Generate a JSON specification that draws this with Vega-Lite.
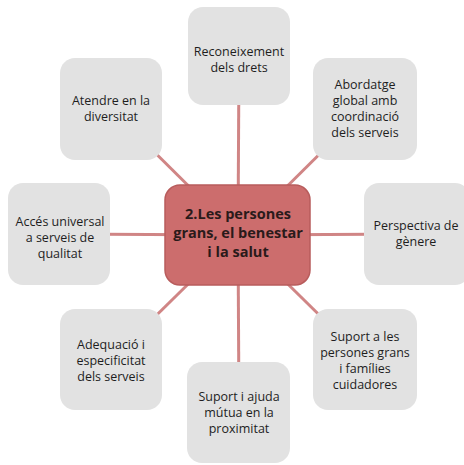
{
  "$schema": "https://vega.github.io/schema/vega-lite/v6.json",
  "width": 464,
  "height": 465,
  "autosize": {"type": "none"},
  "padding": 0,
  "background": "white",
  "config": {"view": {"stroke": null}},
  "datasets": {
    "boxes": [
      {"label": "Reconeixement\ndels drets", "x1": 188, "x2": 290, "y1": 7, "y2": 105, "cx": 239, "ty": 52},
      {"label": "Abordatge\nglobal amb\ncoordinació\ndels serveis", "x1": 313, "x2": 417, "y1": 58, "y2": 160, "cx": 365, "ty": 85},
      {"label": "Perspectiva de\ngènere", "x1": 364, "x2": 470, "y1": 183, "y2": 285, "cx": 416, "ty": 226},
      {"label": "Suport a les\npersones grans\ni famílies\ncuidadores", "x1": 313, "x2": 417, "y1": 309, "y2": 410, "cx": 365, "ty": 337},
      {"label": "Suport i ajuda\nmútua en la\nproximitat", "x1": 187, "x2": 290, "y1": 362, "y2": 463, "cx": 239, "ty": 397},
      {"label": "Adequació i\nespecificitat\ndels serveis", "x1": 60, "x2": 162, "y1": 309, "y2": 410, "cx": 111, "ty": 345},
      {"label": "Accés universal\na serveis de\nqualitat", "x1": 8, "x2": 110, "y1": 183, "y2": 285, "cx": 60, "ty": 222},
      {"label": "Atendre en la\ndiversitat", "x1": 60, "x2": 162, "y1": 58, "y2": 160, "cx": 111, "ty": 101}
    ],
    "links": [
      {"hx": 238, "hy": 235, "cx": 239, "cy": 57},
      {"hx": 238, "hy": 235, "cx": 365, "cy": 109},
      {"hx": 238, "hy": 235, "cx": 416, "cy": 234},
      {"hx": 238, "hy": 235, "cx": 365, "cy": 360},
      {"hx": 238, "hy": 235, "cx": 239, "cy": 412},
      {"hx": 238, "hy": 235, "cx": 111, "cy": 360},
      {"hx": 238, "hy": 235, "cx": 60, "cy": 234},
      {"hx": 238, "hy": 235, "cx": 111, "cy": 109}
    ],
    "hub": [
      {"label": "2.Les persones\ngrans, el benestar\ni la salut", "x1": 165, "x2": 310, "y1": 185, "y2": 285, "cx": 238, "ty": 215}
    ]
  },
  "layer": [
    {
      "data": {"name": "links"},
      "mark": {"type": "rule", "color": "#d08585", "strokeWidth": 3},
      "encoding": {
        "x": {"field": "hx", "type": "quantitative", "scale": {"domain": [0, 464], "range": [0, 464]}, "axis": null},
        "y": {"field": "hy", "type": "quantitative", "scale": {"domain": [0, 465], "range": [0, 465]}, "axis": null},
        "x2": {"field": "cx"},
        "y2": {"field": "cy"}
      }
    },
    {
      "data": {"name": "boxes"},
      "mark": {"type": "rect", "fill": "#e2e2e2", "cornerRadius": 15},
      "encoding": {
        "x": {"field": "x1", "type": "quantitative", "scale": {"domain": [0, 464], "range": [0, 464]}, "axis": null},
        "x2": {"field": "x2"},
        "y": {"field": "y1", "type": "quantitative", "scale": {"domain": [0, 465], "range": [0, 465]}, "axis": null},
        "y2": {"field": "y2"}
      }
    },
    {
      "data": {"name": "hub"},
      "mark": {"type": "rect", "fill": "#cc6d6d", "stroke": "#b85c5c", "strokeWidth": 1.5, "cornerRadius": 15},
      "encoding": {
        "x": {"field": "x1", "type": "quantitative", "scale": {"domain": [0, 464], "range": [0, 464]}, "axis": null},
        "x2": {"field": "x2"},
        "y": {"field": "y1", "type": "quantitative", "scale": {"domain": [0, 465], "range": [0, 465]}, "axis": null},
        "y2": {"field": "y2"}
      }
    },
    {
      "data": {"name": "boxes"},
      "mark": {"type": "text", "font": "Open Sans", "fontSize": 12.5, "lineHeight": 16, "lineBreak": "\n", "align": "center", "baseline": "middle", "color": "#1e1e1e"},
      "encoding": {
        "x": {"field": "cx", "type": "quantitative", "scale": {"domain": [0, 464], "range": [0, 464]}, "axis": null},
        "y": {"field": "ty", "type": "quantitative", "scale": {"domain": [0, 465], "range": [0, 465]}, "axis": null},
        "text": {"field": "label"}
      }
    },
    {
      "data": {"name": "hub"},
      "mark": {"type": "text", "font": "Open Sans", "fontSize": 14.5, "fontWeight": "bold", "lineHeight": 19, "lineBreak": "\n", "align": "center", "baseline": "middle", "color": "#2a1a1a"},
      "encoding": {
        "x": {"field": "cx", "type": "quantitative", "scale": {"domain": [0, 464], "range": [0, 464]}, "axis": null},
        "y": {"field": "ty", "type": "quantitative", "scale": {"domain": [0, 465], "range": [0, 465]}, "axis": null},
        "text": {"field": "label"}
      }
    }
  ]
}
